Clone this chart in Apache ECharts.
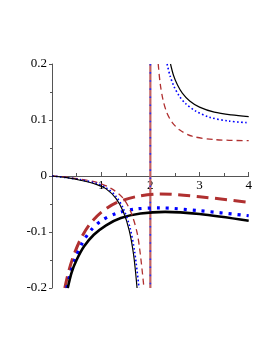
<!DOCTYPE html>
<html><head><meta charset="utf-8">
<script src="https://cdn.jsdelivr.net/npm/echarts@6/dist/echarts.min.js"></script>
<style>html,body{margin:0;padding:0;background:#fff}#c{width:273px;height:353px}</style>
</head><body><div id="c"></div>
<script>
// x tick labels and y tick labels
const xTicks = [1, 2, 3, 4];
const yTicks = [-0.2, -0.1, 0, 0.1, 0.2];

// thin curves, left branches
const blackThinLX = [0, 0.3, 0.6, 0.9, 1.1, 1.3, 1.45, 1.57, 1.66, 1.73];
const blackThinLY = [0, -0.003, -0.008, -0.015, -0.023, -0.040, -0.064, -0.097, -0.141, -0.2];
const blueThinLX = [0, 0.3, 0.6, 0.9, 1.1, 1.3, 1.45, 1.58, 1.68, 1.77];
const blueThinLY = [0, -0.003, -0.007, -0.013, -0.021, -0.036, -0.058, -0.09, -0.135, -0.2];
const brownThinLX = [0, 0.3, 0.6, 0.9, 1.2, 1.45, 1.62, 1.75, 1.87];
const brownThinLY = [0, -0.002, -0.006, -0.011, -0.022, -0.040, -0.068, -0.11, -0.2];

// thin curves, right branches
const blackThinRX = [2.41, 2.47, 2.55, 2.65, 2.8, 3.0, 3.3, 3.65, 4];
const blackThinRY = [0.2, 0.180, 0.163, 0.148, 0.134, 0.123, 0.114, 0.109, 0.106];
const blueThinRX = [2.34, 2.40, 2.48, 2.58, 2.72, 2.92, 3.2, 3.6, 4];
const blueThinRY = [0.2, 0.179, 0.160, 0.144, 0.129, 0.116, 0.105, 0.098, 0.095];
const brownThinRX = [2.16, 2.20, 2.26, 2.34, 2.45, 2.6, 2.85, 3.3, 4];
const brownThinRY = [0.2, 0.165, 0.135, 0.112, 0.095, 0.082, 0.071, 0.065, 0.063];

// thick curves
const blackThickX = [0.32, 0.40, 0.50, 0.65, 0.85, 1.1, 1.4, 1.8, 2.3, 3.0, 4];
const blackThickY = [-0.2, -0.172, -0.150, -0.126, -0.105, -0.088, -0.075, -0.067, -0.064, -0.068, -0.080];
const blueThickX = [0.30, 0.38, 0.48, 0.62, 0.80, 1.0, 1.3, 1.7, 2.2, 3.0, 4];
const blueThickY = [-0.2, -0.172, -0.146, -0.119, -0.096, -0.08, -0.067, -0.059, -0.057, -0.062, -0.071];
const brownThickX = [0.26, 0.34, 0.44, 0.58, 0.76, 1.0, 1.3, 1.7, 2.2, 3.0, 4];
const brownThickY = [-0.2, -0.17, -0.142, -0.113, -0.087, -0.065, -0.048, -0.037, -0.032, -0.037, -0.047];

// vertical asymptote line
const vertX = [2, 2];
const vertY = [0.2, -0.2];

const zip = (xs, ys) => xs.map((x, i) => [x, ys[i]]);
const FONT = 'Liberation Serif';

function line(xs, ys, color, width, type, smooth) {
  return {
    type: 'line', data: zip(xs, ys), showSymbol: false,
    smooth: smooth === undefined ? 0.3 : smooth,
    lineStyle: { color: color, width: width, type: type, cap: 'butt' },
    silent: true, animation: false, clip: true
  };
}

const chart = echarts.init(document.getElementById('c'), null, { renderer: 'canvas' });
chart.setOption({
  animation: false,
  grid: { left: 52, right: 24.3, top: 64, bottom: 65, containLabel: false },
  xAxis: {
    type: 'value', min: 0, max: 4, interval: 1, position: 'bottom', offset: -112,
    axisLine: { show: true, onZero: false, lineStyle: { color: '#555', width: 1 } },
    axisTick: { show: true, inside: true, length: 4, lineStyle: { color: '#555' } },
    minorTick: { show: true, splitNumber: 2, length: 3, lineStyle: { color: '#555' } },
    splitLine: { show: false },
    axisLabel: {
      fontFamily: FONT, fontSize: 13, color: '#000', margin: 3,
      formatter: v => (xTicks.indexOf(v) >= 0 ? String(v) : '')
    }
  },
  yAxis: {
    type: 'value', min: -0.2, max: 0.2, interval: 0.1,
    axisLine: { show: true, onZero: false, lineStyle: { color: '#555', width: 1 } },
    axisTick: { show: true, inside: false, length: 3, lineStyle: { color: '#555' } },
    minorTick: { show: true, splitNumber: 2, length: 2, lineStyle: { color: '#555' } },
    splitLine: { show: false },
    axisLabel: {
      fontFamily: FONT, fontSize: 13, color: '#000', margin: 5,
      formatter: v => {
        const r = Math.round(v * 10) / 10;
        return yTicks.indexOf(r) >= 0 ? (r === 0 ? '0' : (r < 0 ? '-' : '') + Math.abs(r).toFixed(1)) : '';
      }
    }
  },
  series: [
    line(vertX, vertY, '#c06060', 2.2, 'solid', false),
    line(vertX, vertY, '#2233ff', 1.6, [1.6, 6.5], false),
    line(brownThickX, brownThickY, '#b03030', 3, [12, 6.5]),
    line(blueThickX, blueThickY, '#0000ff', 3.2, [3, 6]),
    line(blackThickX, blackThickY, '#000000', 2.6, 'solid'),
    line(brownThinLX, brownThinLY, '#b03030', 1.3, [6, 4]),
    line(blueThinLX, blueThinLY, '#0000ff', 1.6, [1.6, 2.4]),
    line(blackThinLX, blackThinLY, '#000000', 1.2, 'solid'),
    line(brownThinRX, brownThinRY, '#b03030', 1.3, [6, 4]),
    line(blueThinRX, blueThinRY, '#0000ff', 1.6, [1.6, 2.4]),
    line(blackThinRX, blackThinRY, '#000000', 1.2, 'solid')
  ]
});
</script></body></html>
